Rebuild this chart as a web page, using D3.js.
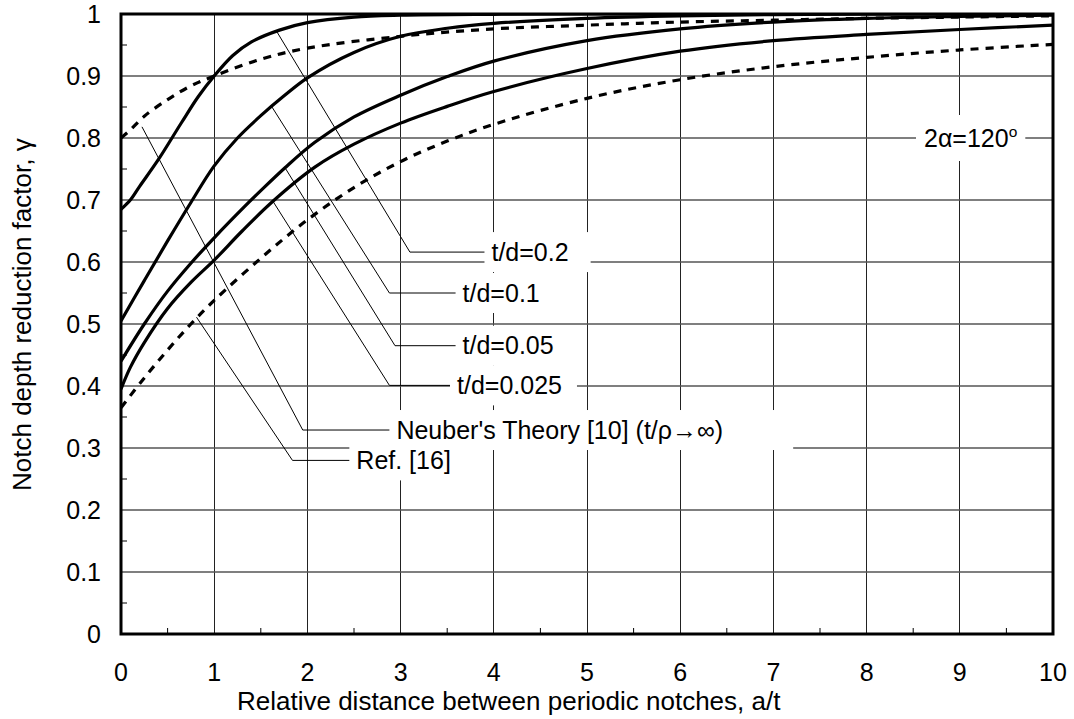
<!DOCTYPE html>
<html><head><meta charset="utf-8">
<script src="https://cdn.jsdelivr.net/npm/d3@7"></script>
<style>body{margin:0;background:#fff}svg{display:block}text{font-family:"Liberation Sans",Arial,sans-serif;fill:#000}</style>
</head><body><svg id="c" width="1074" height="719"></svg>
<script>
// ---- data ----
const xTicks = [0,1,2,3,4,5,6,7,8,9,10];
const yTicks = [0,0.1,0.2,0.3,0.4,0.5,0.6,0.7,0.8,0.9,1];
const yTickLabels = ["0","0.1","0.2","0.3","0.4","0.5","0.6","0.7","0.8","0.9","1"];
const xTitle = "Relative distance between periodic notches, a/t";
const yTitle = "Notch depth reduction factor, \u03b3";

const td02X = [0,0.1,0.2,0.4,0.65,0.83,1.0,1.2,1.4,1.7,2.0,2.5,3,4,5,6,7,8,9,10];
const td02Y = [0.685,0.700,0.722,0.765,0.825,0.867,0.900,0.933,0.955,0.974,0.986,0.995,0.998,0.9995,1,1,1,1,1,1];

const neuberX = [0,0.1,0.25,0.5,0.75,1,1.5,2,3,4,5,6,7,8,9,10];
const neuberY = [0.800,0.813,0.835,0.862,0.884,0.900,0.927,0.945,0.964,0.976,0.982,0.987,0.990,0.993,0.995,0.997];

const td01X = [0,0.25,0.5,0.75,1,1.25,1.5,1.75,2,2.5,3,3.5,4,5,6,7,8,9,10];
const td01Y = [0.505,0.570,0.634,0.696,0.755,0.800,0.836,0.868,0.897,0.938,0.964,0.977,0.985,0.993,0.997,0.999,1,1,1];

const td005X = [0,0.25,0.5,0.75,1,1.33,1.5,1.76,2.08,2.5,3,3.5,4,5,6,7,8,9,10];
const td005Y = [0.440,0.500,0.553,0.598,0.639,0.690,0.715,0.752,0.793,0.834,0.869,0.899,0.924,0.957,0.976,0.987,0.993,0.996,0.998];

const td0025X = [0,0.1,0.25,0.5,0.75,1,1.3,1.63,2.08,2.5,3,3.5,4,5,6,7,8,9,10];
const td0025Y = [0.395,0.430,0.470,0.525,0.567,0.603,0.650,0.698,0.753,0.790,0.824,0.851,0.875,0.912,0.940,0.957,0.967,0.975,0.982];

const ref16X = [0,0.25,0.5,0.75,1,1.5,2,2.5,3,3.5,4,5,6,7,8,9,10];
const ref16Y = [0.365,0.413,0.458,0.500,0.538,0.606,0.668,0.720,0.762,0.795,0.822,0.864,0.894,0.915,0.930,0.942,0.951];

const seriesNames = ["t/d=0.2","Neuber's Theory [10] (t/\u03c1\u2192\u221e)","t/d=0.1","t/d=0.05","t/d=0.025","Ref. [16]"];
const seriesX = [td02X, neuberX, td01X, td005X, td0025X, ref16X];
const seriesY = [td02Y, neuberY, td01Y, td005Y, td0025Y, ref16Y];
const seriesDashed = [false, true, false, false, false, true];

// leader lines: start on curve, elbow, end (data units)
const leaderStartX = [1.67, 0.225, 1.62, 1.76, 1.63, 0.81];
const leaderStartY = [0.972, 0.818, 0.850, 0.752, 0.698, 0.511];
const leaderElbowX = [3.10, 1.95, 2.88, 2.94, 2.88, 1.84];
const leaderElbowY = [0.616, 0.329, 0.550, 0.465, 0.401, 0.280];
const leaderEndX   = [3.90, 2.88, 3.59, 3.59, 3.53, 2.45];
const boxPadRight  = [22, 70, 20, 20, 15, 20];
const angleLabel = "2\u03b1=120";

// ---- layout ----
const svg = d3.select("#c");
const M = {l:121, r:1053, t:14, b:634};
const x = d3.scaleLinear().domain([0,10]).range([M.l, M.r]);
const y = d3.scaleLinear().domain([0,1]).range([M.b, M.t]);
const FS = 25, FT = 26;

// grid
const g = svg.append("g");
g.selectAll(".gx").data(xTicks.slice(1,-1)).join("line")
  .attr("x1", d=>x(d)).attr("x2", d=>x(d)).attr("y1", M.t).attr("y2", M.b)
  .attr("stroke", "#222").attr("stroke-width", 1).attr("shape-rendering","crispEdges");
g.selectAll(".gy").data(yTicks.slice(1,-1)).join("line")
  .attr("x1", M.l).attr("x2", M.r).attr("y1", d=>y(d)).attr("y2", d=>y(d))
  .attr("stroke", "#555").attr("stroke-width", 1.4);

// minor ticks
const xMinor = d3.range(0.5, 10, 1);
const yMinor = d3.range(0.05, 1, 0.1);
g.selectAll(".mx").data(xMinor).join("line")
  .attr("x1", d=>x(d)).attr("x2", d=>x(d)).attr("y1", M.b).attr("y2", M.b-6)
  .attr("stroke", "#000").attr("stroke-width", 1);
g.selectAll(".my").data(yMinor).join("line")
  .attr("x1", M.l).attr("x2", M.l+6).attr("y1", d=>y(d)).attr("y2", d=>y(d))
  .attr("stroke", "#000").attr("stroke-width", 1);

// curves
const line = d3.line().x(d=>x(d[0])).y(d=>y(d[1])).curve(d3.curveCatmullRom.alpha(0.5));
svg.append("clipPath").attr("id","pc").append("rect")
  .attr("x", M.l).attr("y", M.t).attr("width", M.r-M.l).attr("height", M.b-M.t);
seriesX.forEach((xs,i)=>{
  const pts = xs.map((v,j)=>[v, seriesY[i][j]]);
  svg.append("path").attr("d", line(pts)).attr("fill","none")
    .attr("stroke","#000").attr("stroke-width",3.2)
    .attr("clip-path","url(#pc)")
    .attr("stroke-dasharray", seriesDashed[i] ? "8,7" : null);
});

// annotations with white boxes
seriesNames.forEach((name,i)=>{
  const sx=x(leaderStartX[i]), sy=y(leaderStartY[i]);
  const ex=x(leaderElbowX[i]), ey=y(leaderElbowY[i]);
  const tx=x(leaderEndX[i]);
  const t = svg.append("text").attr("x", tx+7).attr("y", ey).attr("dy","0.35em")
    .attr("font-size", FS).text(name);
  const bb = t.node().getBBox();
  svg.insert("rect", "text").attr("x", tx).attr("y", ey-20).attr("width", bb.width+7+boxPadRight[i]).attr("height", 40)
    .attr("fill","#fff");
  svg.append("path").attr("d", `M${sx},${sy}L${ex},${ey}L${tx},${ey}`)
    .attr("fill","none").attr("stroke","#000").attr("stroke-width",1);
});

// angle label
const at = svg.append("text").attr("x", 924).attr("y", y(0.8)).attr("dy","0.35em").attr("font-size", FS);
at.append("tspan").text(angleLabel);
at.append("tspan").attr("dy", "-0.6em").attr("font-size", FS*0.62).text("o");
const abb = at.node().getBBox();
svg.insert("rect", "text").attr("x", abb.x-8).attr("y", y(0.8)-23).attr("width", abb.width+16).attr("height", 46).attr("fill","#fff");

// frame
svg.append("rect").attr("x", M.l).attr("y", M.t).attr("width", M.r-M.l).attr("height", M.b-M.t)
  .attr("fill","none").attr("stroke","#000").attr("stroke-width",3);

// tick labels
svg.selectAll(".xl").data(xTicks).join("text").attr("x", d=>x(d)).attr("y", 681)
  .attr("text-anchor","middle").attr("font-size", FS).text(d=>d);
svg.selectAll(".yl").data(yTicks).join("text").attr("x", M.l-20).attr("y", d=>y(d)).attr("dy","0.35em")
  .attr("text-anchor","end").attr("font-size", FS).text((d,i)=>yTickLabels[i]);

// titles
svg.append("text").attr("x", 237).attr("y", 710).attr("font-size", FT).text(xTitle);
svg.append("text").attr("transform", `translate(31,491) rotate(-90)`)
  .attr("text-anchor","start").attr("font-size", FT).text(yTitle);
</script></body></html>
